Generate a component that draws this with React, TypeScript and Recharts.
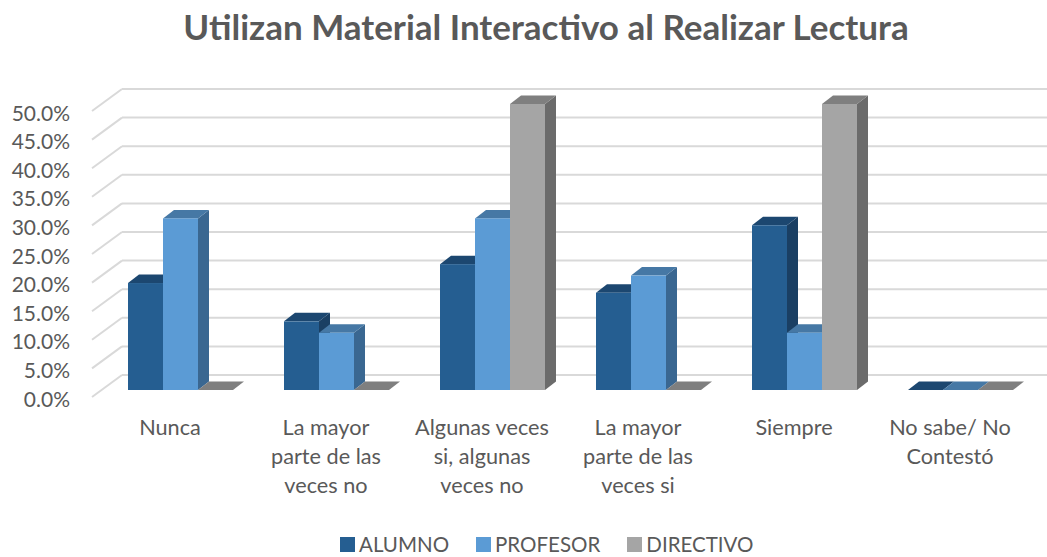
import React from 'react';
import { BarChart, Bar, XAxis, YAxis, CartesianGrid, Legend } from 'recharts';

const categories = ['Nunca', 'La mayor parte de las veces no', 'Algunas veces si, algunas veces no', 'La mayor parte de las veces si', 'Siempre', 'No sabe/ No Contestó'];
const categoryLines = [
  ['Nunca'],
  ['La mayor', 'parte de las', 'veces no'],
  ['Algunas veces', 'si, algunas', 'veces no'],
  ['La mayor', 'parte de las', 'veces si'],
  ['Siempre'],
  ['No sabe/ No', 'Contestó'],
];
const alumno = [18.7, 12, 22, 17, 28.8, 0];
const profesor = [30, 10, 30, 20, 10, 0];
const directivo = [0, 0, 50, 0, 50, 0];
const yTicks = [0, 5, 10, 15, 20, 25, 30, 35, 40, 45, 50];

const data = categories.map((name, i) => ({
  name,
  ALUMNO: alumno[i],
  PROFESOR: profesor[i],
  DIRECTIVO: directivo[i],
}));

const FONT = 'Lato, sans-serif';
const TEXT_COLOR = '#595959';
const GRID_COLOR = '#D9D9D9';
const DEPTH_X = 11;
const DEPTH_Y = 8.5;

// Fake 3D column: front face, top face and side face
const Column = ({ x, y, width, height, front, top, side }: any) => (
  <g>
    <path
      d={`M${x + width},${y + height} L${x + width + DEPTH_X},${y + height - DEPTH_Y} L${x + width + DEPTH_X},${y - DEPTH_Y} L${x + width},${y} Z`}
      fill={side}
    />
    <path
      d={`M${x},${y} L${x + DEPTH_X},${y - DEPTH_Y} L${x + width + DEPTH_X},${y - DEPTH_Y} L${x + width},${y} Z`}
      fill={top}
    />
    <rect x={x} y={y} width={width} height={height} fill={front} />
  </g>
);

// Back wall line plus the diagonal on the side wall
const GridLine = ({ x1, y1, x2 }: any) => (
  <g stroke={GRID_COLOR} strokeWidth={2} fill="none">
    <line x1={x1 + 20} y1={y1 - 15} x2={x2 + 9} y2={y1 - 15} />
    <line x1={x1 - 10} y1={y1 + 7} x2={x1 + 20} y2={y1 - 15} />
  </g>
);

const YTick = ({ y, payload }: any) => (
  <text x={70} y={y + 8} textAnchor="end" dominantBaseline="central" fontSize={21} fontFamily={FONT} fill={TEXT_COLOR}>
    {`${payload.value.toFixed(1)}%`}
  </text>
);

const XTick = ({ x, index }: any) => (
  <text textAnchor="middle" fontSize={21.7} fontFamily={FONT} fill={TEXT_COLOR}>
    {categoryLines[index].map((line, i) => (
      <tspan key={line} x={x - 10} y={435 + i * 29}>
        {line}
      </tspan>
    ))}
  </text>
);

const LegendContent = ({ payload }: any) => (
  <div style={{ display: 'flex', justifyContent: 'flex-start', paddingLeft: 326.5, paddingTop: 12, fontFamily: FONT, fontSize: 20.5, color: TEXT_COLOR, lineHeight: '24px' }}>
    {payload.map((entry: any) => (
      <div key={entry.value} style={{ display: 'flex', alignItems: 'center', margin: '0 13.5px' }}>
        <span style={{ width: 15, height: 15, background: entry.color, marginRight: 4 }} />
        <span>{entry.value}</span>
      </div>
    ))}
  </div>
);

export default function App() {
  return (
    <div style={{ position: 'absolute', left: 0, top: 0, width: 1047, height: 557, background: '#fff', overflow: 'hidden' }}>
      <div
        style={{
          position: 'absolute',
          left: 0,
          top: 6,
          width: 1092,
          textAlign: 'center',
          fontFamily: FONT,
          fontWeight: 700,
          fontSize: 35,
          lineHeight: '40px',
          color: TEXT_COLOR,
        }}
      >
        Utilizan Material Interactivo al Realizar Lectura
      </div>
      <BarChart
        width={1047}
        height={557}
        data={data}
        barSize={35}
        barGap={0}
        margin={{ top: 104, right: 9, left: 0, bottom: 0 }}
      >
        <CartesianGrid vertical={false} horizontal={(p: any) => <GridLine key={p.key ?? p.index} {...p} />} />
        <XAxis dataKey="name" height={130} interval={0} axisLine={false} tickLine={false} tick={<XTick />} />
        <YAxis width={102} domain={[0, 50]} ticks={yTicks} axisLine={false} tickLine={false} tick={<YTick />} />
        <Legend verticalAlign="bottom" height={37} itemSorter={null} content={<LegendContent />} />
        <Bar dataKey="ALUMNO" fill="#255E91" isAnimationActive={false} shape={(p: any) => <Column {...p} front="#255E91" top="#1C4770" side="#1A3F63" />} />
        <Bar dataKey="PROFESOR" fill="#5B9BD5" isAnimationActive={false} shape={(p: any) => <Column {...p} front="#5B9BD5" top="#4678A5" side="#3A6791" />} />
        <Bar dataKey="DIRECTIVO" fill="#A5A5A5" isAnimationActive={false} shape={(p: any) => <Column {...p} front="#A5A5A5" top="#7F7F7F" side="#6B6B6B" />} />
      </BarChart>
    </div>
  );
}
